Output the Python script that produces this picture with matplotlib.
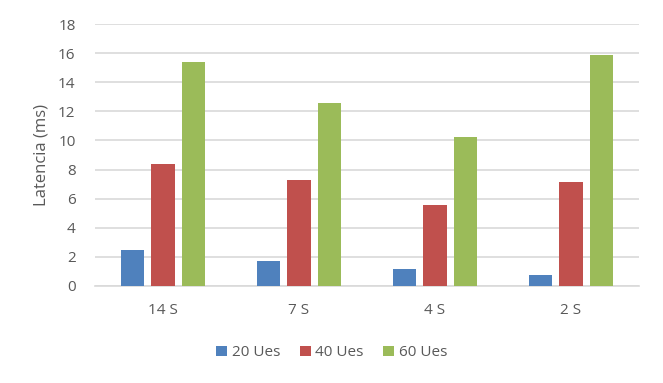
import numpy as np
import matplotlib.pyplot as plt

# Data
categories = ["14 S", "7 S", "4 S", "2 S"]
series_names = ["20 Ues", "40 Ues", "60 Ues"]
ues20 = [2.45, 1.70, 1.15, 0.75]
ues40 = [8.37, 7.27, 5.55, 7.13]
ues60 = [15.37, 12.55, 10.22, 15.86]
colors = ["#4F81BD", "#C0504D", "#9BBB59"]

plt.rcParams["font.family"] = ["Open Sans", "DejaVu Sans"]
text_color = "#595959"
grid_color = "#D9D9D9"

fig = plt.figure(figsize=(6.63, 3.83), dpi=100)
ax = fig.add_axes([0.1433, 0.2533, 0.8205, 0.6840])

x = np.arange(len(categories))
width = 0.17
offset = 0.224
for i, (vals, name, col) in enumerate(zip([ues20, ues40, ues60], series_names, colors)):
    ax.bar(x + (i - 1) * offset, vals, width, color=col, label=name, zorder=3)

ax.set_xlim(-0.5, len(categories) - 0.5)
ax.set_ylim(0, 18)
ax.set_yticks(np.arange(0, 19, 2))
ax.set_xticks(x)
ax.set_xticklabels(categories)
ax.yaxis.grid(True, color=grid_color, linewidth=1.2, zorder=0)
ax.set_axisbelow(True)
for s in ["top", "right", "left"]:
    ax.spines[s].set_visible(False)
ax.spines["bottom"].set_color(grid_color)
ax.spines["bottom"].set_linewidth(1.2)
ax.tick_params(axis="both", length=0, labelsize=11, colors=text_color, pad=14)
ax.tick_params(axis="x", pad=12)
ax.set_ylabel("Latencia (ms)", fontsize=12, color=text_color, labelpad=6)

ax.legend(loc="center", bbox_to_anchor=(0.435, -0.255), ncol=3, frameon=False,
          fontsize=11, handlelength=0.7, handleheight=0.7, handletextpad=0.3,
          columnspacing=1.3, labelcolor=text_color)

fig.savefig("out.png", dpi=100)
